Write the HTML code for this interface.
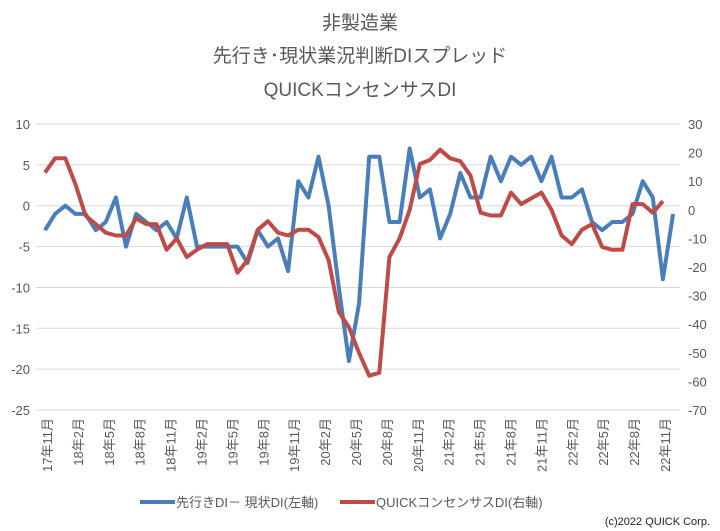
<!DOCTYPE html>
<html><head><meta charset="utf-8"><style>
body{margin:0;background:#fff;}
svg{display:block;font-family:"Liberation Sans","Noto Sans CJK JP",sans-serif;}
</style></head><body>
<svg width="720" height="531" viewBox="0 0 720 531" xmlns="http://www.w3.org/2000/svg">
<rect width="720" height="531" fill="#fff"/>
<g fill="#595959" font-size="19" text-anchor="middle">
<text x="360" y="29">非製造業</text>
<text x="360" y="62">先行き･現状業況判断DIスプレッド</text>
<text x="360" y="96">QUICKコンセンサスDI</text>
</g>
<g id="grid" stroke="#d9d9d9" stroke-width="1"></g>
<g id="ylab" fill="#595959" font-size="13"></g>
<g id="xlab" fill="#595959" font-size="13"></g>
<polyline id="blue" fill="none" stroke="#4a7ebb" stroke-width="4" stroke-linejoin="round"/>
<polyline id="red" fill="none" stroke="#be4b48" stroke-width="4" stroke-linejoin="round"/>
<line x1="140" y1="502" x2="175" y2="502" stroke="#4a7ebb" stroke-width="4"/>
<text x="176" y="507" fill="#595959" font-size="13">先行きDI－ 現状DI(左軸)</text>
<line x1="340" y1="502" x2="375" y2="502" stroke="#be4b48" stroke-width="4"/>
<text x="376" y="507" fill="#595959" font-size="13">QUICKコンセンサスDI(右軸)</text>
<text x="710" y="525" fill="#222" font-size="11" text-anchor="end">(c)2022 QUICK Corp.</text>
</svg>
<script>
var ns="http://www.w3.org/2000/svg";
function el(p,t,a,txt){var e=document.createElementNS(ns,t);for(var k in a)e.setAttribute(k,a[k]);if(txt!=null)e.textContent=txt;document.getElementById(p).appendChild(e);return e;}
for(var i=0;i<8;i++){var v=10-5*i,y=124+i*40.86;
el("grid","line",{x1:36,x2:680,y1:y,y2:y});
el("ylab","text",{x:30,y:y+5,"text-anchor":"end"},String(v));}
for(var i=0;i<11;i++){var y=124+i*28.6;
el("ylab","text",{x:688,y:y+5},String(30-10*i));}
var labs=["17年11月","18年2月","18年5月","18年8月","18年11月","19年2月","19年5月","19年8月","19年11月","20年2月","20年5月","20年8月","20年11月","21年2月","21年5月","21年8月","21年11月","22年2月","22年5月","22年8月","22年11月"];
for(var i=0;i<labs.length;i++){var x=47+i*30.9+5;
el("xlab","text",{x:x,y:418,"text-anchor":"end",transform:"rotate(-90 "+x+" 418)"},labs[i]);}
var B=[-3,-1,0,-1,-1,-3,-2,1,-5,-1,-2,-3,-2,-4,1,-5,-5,-5,-5,-5,-7,-3,-5,-4,-8,3,1,6,0,-10,-19,-12,6,6,-2,-2,7,1,2,-4,-1,4,1,1,6,3,6,5,6,3,6,1,1,2,-2,-3,-2,-2,-1,3,1,-9,-1];
var R=[13,18,18,9,-2,-5,-8,-9,-9,-3,-5,-5,-14,-10,-16.5,-14,-12,-12,-12,-22,-17.6,-7,-4,-8,-9,-7,-7,-9.5,-17.6,-35.7,-41,-50,-58,-57,-16.5,-10,0,16,17.4,21,18,17,12,-1,-2,-2,6,2,4,6,0,-9,-12,-7,-5,-13,-14,-14,2,2,-1,3];
var dx=10.13,p=[];
B.forEach(function(v,i){p.push((45+i*dx).toFixed(1)+","+(205.7-v*8.172).toFixed(1));});
document.getElementById("blue").setAttribute("points",p.join(" "));
p=[];R.forEach(function(v,i){p.push((45+i*dx).toFixed(1)+","+(124+(30-v)*2.86).toFixed(1));});
document.getElementById("red").setAttribute("points",p.join(" "));
</script>
</body></html>
